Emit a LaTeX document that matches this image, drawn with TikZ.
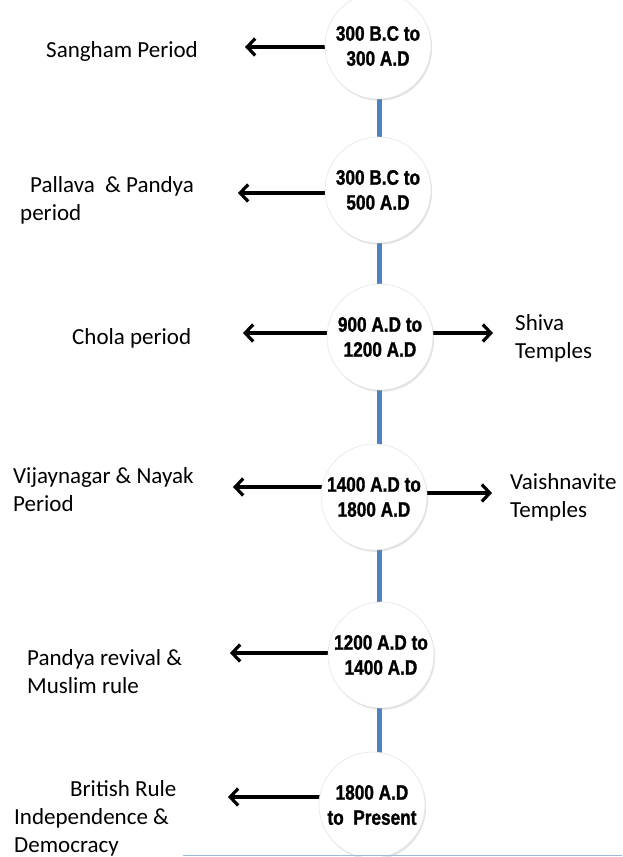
\documentclass[tikz,border=0pt]{standalone}
\usepackage{fontspec}
\setmainfont{Carlito}
\newfontfamily\datefont[FakeStretch=0.82,FakeBold=1.2]{Liberation Sans}
\usetikzlibrary{arrows.meta,shadows,backgrounds}
\definecolor{spineblue}{RGB}{79,129,189}

\begin{document}
\begin{tikzpicture}[x=1pt,y=-1pt,
  era/.style={circle,fill=white,draw=black!10,line width=0.6pt,
    minimum size=106pt,inner sep=0pt,align=center,
    font=\datefont\bfseries\fontsize{21}{25}\selectfont,
    drop shadow={shadow xshift=1.2pt,shadow yshift=-1.8pt,opacity=0.22}},
  lbl/.style={anchor=west,inner sep=0pt,align=left,
    font=\fontsize{23}{28}\selectfont},
  arr/.style={line width=3.2pt,-{Straight Barb[length=8pt,width=17pt]}},
  spine/.style={line width=5pt,draw=spineblue}]
\useasboundingbox (0,0) rectangle (622,857);

% Eras
\node[era] (c1) at (378,46) {300 B.C to\\300 A.D};
\node[era] (c2) at (378,190) {300 B.C to\\500 A.D};
\node[era] (c3) at (380,337) {900 A.D to\\1200 A.D};
\node[era] (c4) at (374,497) {1400 A.D to\\1800 A.D};
\node[era] (c5) at (381,655) {1200 A.D to\\1400 A.D};
\node[era] (c6) at (372,805) {1800 A.D\\to\ \ Present};

% Periods
\node[lbl] (sangham) at (46,51) {Sangham Period};
\node[lbl] (pallava) at (20,200) {\hspace*{10pt}Pallava\ \ \& Pandya\\period};
\node[lbl] (chola) at (72,338) {Chola period};
\node[lbl] (vijay) at (13,490) {Vijaynagar \& Nayak\\Period};
\node[lbl] (revival) at (27,672) {Pandya revival \&\\Muslim rule};
\node[lbl] (british) at (14,818) {\hspace*{56pt}British Rule\\Independence \&\\Democracy};

% Temples
\node[lbl] (shiva) at (515,338) {Shiva\\Temples};
\node[lbl] (vaish) at (510,497) {Vaishnavite\\Temples};

% Arrow tips
\coordinate (t1) at (245,47);
\coordinate (t2) at (238,193);
\coordinate (t3) at (243,333);
\coordinate (t4) at (233,487);
\coordinate (t5) at (230,653);
\coordinate (t6) at (228,797);
\coordinate (r3) at (493,333);
\coordinate (r4) at (492,493);
\coordinate (sx) at (379,0);

\begin{scope}[on background layer]
% Time line
\draw[spine] (c1.center -| sx) -- (c6.center -| sx);

% Arrows
\draw[arr] (c1.center |- t1) -- (t1);
\draw[arr] (c2.center |- t2) -- (t2);
\draw[arr] (c3.center |- t3) -- (t3);
\draw[arr] (c4.center |- t4) -- (t4);
\draw[arr] (c5.center |- t5) -- (t5);
\draw[arr] (c6.center |- t6) -- (t6);
\draw[arr] (c3.center |- r3) -- (r3);
\draw[arr] (c4.center |- r4) -- (r4);
\end{scope}

% Base line
\coordinate (bl) at (183,855);
\coordinate (br) at (622,855);
\draw[spineblue!55,line width=1pt] (bl) -- (br);
\end{tikzpicture}
\end{document}
